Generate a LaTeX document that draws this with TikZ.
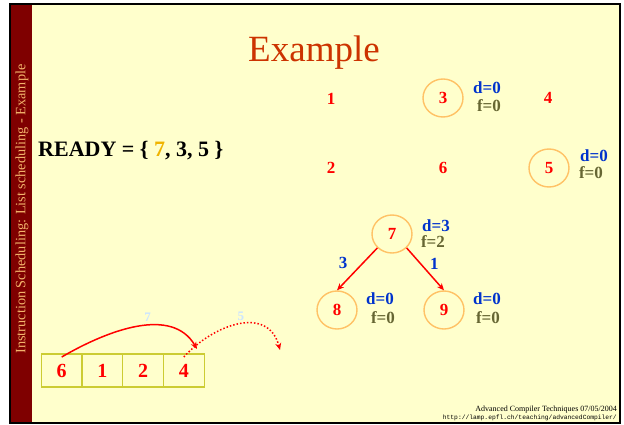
\documentclass[tikz,border=0pt]{standalone}
\usepackage{fontspec}
\setmainfont{Liberation Serif}
\setmonofont{Liberation Mono}
\usepackage{xcolor}
\usepackage{tikz}
\usetikzlibrary{arrows.meta,shapes.geometric}
\definecolor{slide}{HTML}{FFFFCC}
\definecolor{band}{HTML}{7F0000}
\definecolor{bandtxt}{HTML}{F2B36B}
\definecolor{ttlred}{HTML}{CC3300}
\definecolor{numred}{HTML}{FF0000}
\definecolor{ring}{HTML}{FFC266}
\definecolor{dblue}{HTML}{0033CC}
\definecolor{folive}{HTML}{666633}
\definecolor{cellrim}{HTML}{CCCC33}
\definecolor{ghostblue}{HTML}{CCE5FF}
\definecolor{gold}{HTML}{F0B400}
\tikzset{
  ttl/.style    ={font=\fontsize{37}{37}\selectfont, text=ttlred, anchor=base, inner sep=0pt},
  sidetxt/.style={font=\fontsize{14.3}{14.3}\selectfont, text=bandtxt, rotate=90, inner sep=0pt},
  ready/.style  ={font=\fontsize{22}{22}\selectfont\bfseries, anchor=base west, inner sep=0pt},
  num/.style    ={font=\fontsize{17}{17}\selectfont\bfseries, text=numred, inner sep=0pt},
  instr/.style  ={num, ellipse, draw=ring, line width=1.4pt, minimum width=40pt,
                  minimum height=38pt},
  dval/.style   ={font=\fontsize{17}{17}\selectfont\bfseries, text=dblue, inner sep=0pt},
  fval/.style   ={dval, text=folive},
  elab/.style   ={dval},
  dep/.style    ={draw=numred, line width=1.5pt, -{Stealth[length=7pt,width=6pt]}},
  cell/.style   ={draw=cellrim, line width=1.2pt, minimum width=40.7pt, minimum height=33pt,
                  font=\fontsize{20}{20}\selectfont\bfseries, text=numred, inner sep=0pt,
                  outer sep=0pt},
  move/.style   ={draw=numred, line width=1.5pt, -{Stealth[length=7pt,width=6pt]}},
  ghost/.style  ={font=\fontsize{13}{13}\selectfont\bfseries, text=ghostblue, inner sep=1pt},
  foot/.style   ={font=\fontsize{8}{8}\selectfont, anchor=base east, inner sep=0pt},
  url/.style    ={font=\fontsize{6.3}{6.3}\selectfont\ttfamily, anchor=base east, inner sep=0pt},
}

\begin{document}
\begin{tikzpicture}[x=1pt,y=-1pt]
  \useasboundingbox (0,0) rectangle (624,425);
  % slide frame with the side band
  \fill[slide] (10,4) rectangle (620,423);
  \fill[band] (10,4) rectangle (32,423);
  \draw[black, line width=2pt] (10,4) rectangle (620,423);
  \node[sidetxt] (side) at (22,209) {Instruction Scheduling: List scheduling - Example};
  \node[ttl] (title) at (314,62) {Example};

  \node[ready] (readyset) at (38,157) {READY = \{ \textcolor{gold}{7}, 3, 5 \}};

  \foreach \k/\px/\py in {1/331/99,4/548/98,2/331/168,6/443/168}
    \node[num] (n\k) at (\px,\py) {\k};
  \foreach \k/\px/\py in {3/443/98,5/549/168,7/392/234,8/337/310,9/444/310}
    \node[instr] (n\k) at (\px,\py) {\k};

  % delay / fan-out next to each candidate
  \foreach \k/\dv/\fv/\dx/\dy/\fx/\fy in {3/0/0/487/88/489/106,
                                         5/0/0/594/156/591/173,
                                         7/3/2/436/226/433/242,
                                         8/0/0/380/299/383/318,
                                         9/0/0/487/299/488/318}{
    \node[dval] (d\k) at (\dx,\dy) {d=\dv};
    \node[fval] (f\k) at (\fx,\fy) {f=\fv};
  }

  \draw[dep] (n7.south west) -- (n8.north) node[elab, midway, xshift=-14pt, yshift=6pt] {3};
  \draw[dep] (n7.south east) -- (n9.north) node[elab, midway, xshift=9pt, yshift=5pt] {1};

  % schedule so far
  \foreach \i/\v in {1/6,2/1,3/2,4/4}
    \node[cell] (b\i) at (21+40.7*\i,370.5) {\v};
  \coordinate (drop7) at (197,349);
  \coordinate (drop5) at (280,350);
  \draw[move] ([yshift=-3pt]b1.north) .. controls (108,330) and (172,306) .. (drop7)
        node[ghost, pos=0.57, above=2pt] {7};
  \draw[move, dotted] ([yshift=-3pt]b4.north) .. controls (214,324) and (268,305) .. (drop5)
        node[ghost, pos=0.52, above=2pt] {5};

  \node[foot] (credit) at (617,411) {Advanced Compiler Techniques 07/05/2004};
  \node[url] (link) at (617,419) {http://lamp.epfl.ch/teaching/advancedCompiler/};
\end{tikzpicture}
\end{document}
